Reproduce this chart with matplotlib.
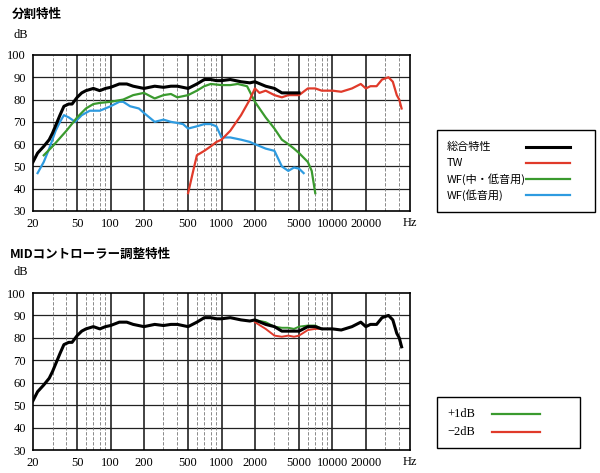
import numpy as np
import matplotlib.pyplot as plt
from matplotlib.patches import Rectangle
from matplotlib.lines import Line2D

plt.rcParams['font.family'] = ['Liberation Serif', 'Noto Sans CJK JP']

# 総合特性
total_f = [20, 22, 25, 28, 30, 35, 38, 42, 45, 50, 55, 60, 70, 80, 90, 100, 120, 140, 160, 200,
           250, 300, 350, 400, 500, 600, 700, 800, 900, 1000, 1200, 1500, 1800, 2000, 2500, 3000,
           3500, 4000, 5000, 6000, 7000, 8000, 10000, 12000, 15000, 18000, 20000, 22000, 25000,
           28000, 32000, 35000, 38000, 40000, 42000]
total_db = [52, 56, 59, 62, 65, 73, 77, 78, 78, 81, 83, 84, 85, 84, 85, 85.5, 87, 87, 86, 85,
            86, 85.5, 86, 86, 85, 87, 89, 89, 88.5, 88.5, 89, 88, 87.5, 88, 86, 85,
            83, 83, 83, 85, 85, 84, 84, 83.5, 85, 87, 85, 86, 86,
            89, 90, 88, 82, 80, 76]
# TW
tw_f = [500, 550, 600, 700, 800, 900, 1000, 1200, 1500, 1800, 2000, 2200, 2500, 3000, 3500, 4000,
        5000, 6000, 7000, 8000, 10000, 12000, 15000, 18000, 20000, 22000, 25000, 28000, 32000,
        35000, 38000, 40000, 42000]
tw_db = [38, 47, 55, 57, 59, 61, 62, 66, 73, 80, 85, 83, 84, 82, 81, 82,
         82, 85, 85, 84, 84, 83.5, 85, 87, 85, 86, 86, 89, 90,
         88, 82, 80, 76]
# WF(中・低音用)
wfm_f = [25, 30, 40, 50, 60, 70, 80, 100, 130, 160, 200, 250, 300, 350, 400, 500, 600, 700, 800,
         1000, 1200, 1400, 1700, 2000, 2500, 3000, 3500, 4000, 4500, 5000, 6000, 6500, 7000]
wfm_db = [55, 59, 66, 72, 76, 78, 78.5, 79, 80, 82, 83, 80.5, 82, 82.5, 81, 82, 84, 86, 87,
          86.5, 86.5, 87, 86, 79, 72, 67, 62, 60, 58, 56, 52, 48, 38]
# WF(低音用)
wfl_f = [22, 25, 28, 32, 35, 38, 42, 48, 55, 65, 80, 100, 120, 130, 150, 180, 200, 250, 300, 350,
         400, 450, 500, 600, 700, 800, 900, 1000, 1200, 1500, 1800, 2000, 2500, 3000, 3500, 4000,
         4500, 5000, 5500]
wfl_db = [47, 52, 58, 66, 70, 73, 72, 70, 73, 75, 75, 77, 79, 79, 77, 76, 74, 70, 71, 70,
          69.5, 69, 67, 68, 69, 69, 68, 63, 63, 62, 61, 60, 58, 57, 50, 48,
          49.5, 49, 47]
# MID調整
mid_f = [2000, 2500, 3000, 3500, 4000, 4500, 5000, 6000, 7000, 8000]
plus1_db = [88, 87, 85, 84.5, 84.5, 84, 85, 85.5, 85.5, 84]
minus2_db = [87, 84, 81, 80.5, 81, 80.5, 81, 83.5, 84, 84]

major_ticks = [20, 50, 100, 200, 500, 1000, 2000, 5000, 10000, 20000]
minor_lines = [30, 40, 60, 70, 80, 90, 300, 400, 600, 700, 800, 900, 3000, 4000, 6000, 7000,
               8000, 9000, 30000, 40000]

W, H = 600, 473
fig = plt.figure(figsize=(W / 100, H / 100), dpi=100)
fig.patch.set_facecolor('white')


def setup(ax):
    ax.set_xscale('log')
    ax.set_xlim(20, 50000)
    ax.set_ylim(30, 100)
    ax.set_yticks(range(30, 101, 10))
    ax.set_xticks(major_ticks)
    ax.set_xticklabels([str(t) for t in major_ticks])
    ax.set_xticks([], minor=True)
    ax.tick_params(length=0, labelsize=9, pad=5)
    for y in range(40, 100, 10):
        ax.axhline(y, color='#222222', lw=0.9, zorder=1)
    for x in major_ticks[1:]:
        ax.axvline(x, color='#222222', lw=1.2, zorder=1)
    for m in minor_lines:
        ax.axvline(m, color='#777777', lw=0.6, ls=(0, (4, 2)), zorder=1)
    for s in ax.spines.values():
        s.set_linewidth(1.2)
    ax.text(1.0, -0.04, 'Hz', transform=ax.transAxes, ha='center', va='top', fontsize=9)


ax1 = fig.add_axes([33 / W, 1 - 211 / H, 377 / W, 156 / H])
setup(ax1)
ax1.plot(wfl_f, wfl_db, color='#2e9be0', lw=1.6, zorder=3)
ax1.plot(wfm_f, wfm_db, color='#3a9a2e', lw=1.6, zorder=3)
ax1.plot(tw_f, tw_db, color='#e03a2a', lw=1.6, zorder=3)
ax1.plot(total_f[:39], total_db[:39], color='black', lw=2.2, zorder=4)

ax2 = fig.add_axes([33 / W, 1 - 450 / H, 377 / W, 157 / H])
setup(ax2)
ax2.plot(total_f, total_db, color='black', lw=2.2, zorder=3)
ax2.plot(mid_f, plus1_db, color='#3a9a2e', lw=1.4, zorder=2)
ax2.plot(mid_f, minus2_db, color='#e03a2a', lw=1.4, zorder=2)

jp = ['Noto Sans CJK JP', 'Liberation Serif']
fig.text(12 / W, 1 - 14 / H, '分割特性', family=jp, fontsize=9, fontweight='bold', va='center')
fig.text(14 / W, 1 - 35 / H, 'dB', fontsize=9, va='center')
fig.text(10 / W, 1 - 254 / H, 'MIDコントローラー調整特性', family=jp, fontsize=9, fontweight='bold', va='center')
fig.text(14 / W, 1 - 272 / H, 'dB', fontsize=9, va='center')

# legend boxes
fig.patches.append(Rectangle((437 / W, 1 - 212 / H), 158 / W, 82 / H, transform=fig.transFigure,
                             fill=False, lw=1.0, color='black'))
leg1 = [('総合特性', 'black', 2.2), ('TW', '#e03a2a', 1.6),
        ('WF(中・低音用)', '#3a9a2e', 1.6), ('WF(低音用)', '#2e9be0', 1.6)]
for i, (lab, c, lw) in enumerate(leg1):
    y = 1 - (147 + i * 16) / H
    fig.text(447 / W, y, lab, family=jp, fontsize=8, va='center')
    fig.lines.append(Line2D([526 / W, 570 / W], [y, y], transform=fig.transFigure, color=c, lw=lw))

fig.patches.append(Rectangle((437 / W, 1 - 448 / H), 143 / W, 51 / H, transform=fig.transFigure,
                             fill=False, lw=1.0, color='black'))
leg2 = [('+1dB', '#3a9a2e'), ('−2dB', '#e03a2a')]
for i, (lab, c) in enumerate(leg2):
    y = 1 - (414 + i * 18) / H
    fig.text(447 / W, y, lab, fontsize=9, va='center')
    fig.lines.append(Line2D([492 / W, 540 / W], [y, y], transform=fig.transFigure, color=c, lw=1.6))

fig.savefig('out.png', dpi=100)
